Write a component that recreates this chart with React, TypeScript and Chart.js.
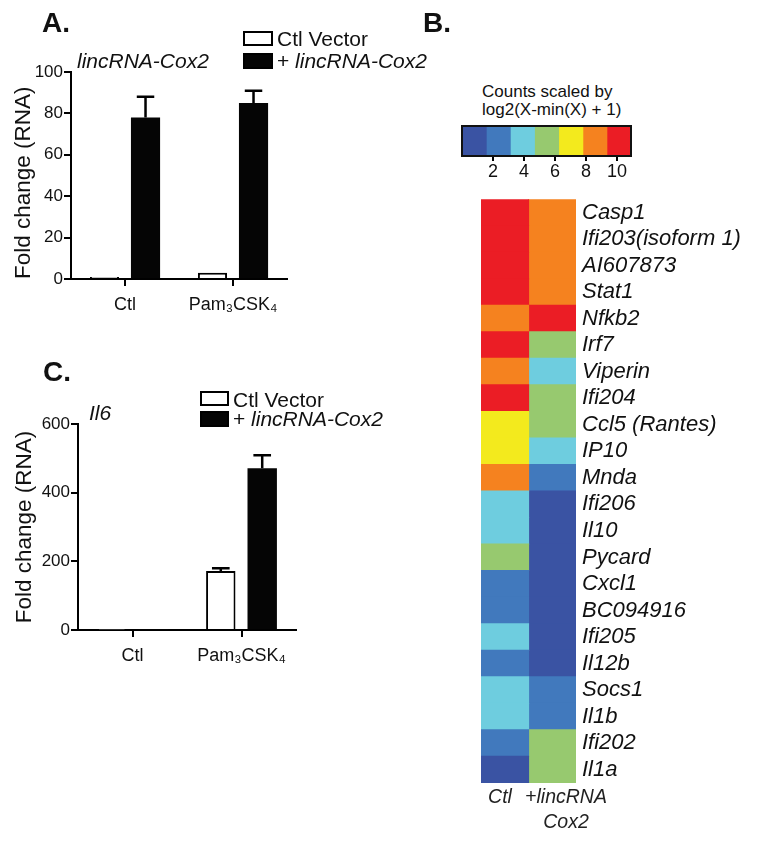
import React, { useEffect, useRef } from 'react';
import { Chart, registerables } from 'chart.js';

Chart.register(...registerables);

const FONT = "'Liberation Sans', Arial, Helvetica, sans-serif";

// ---------- Panels A and C (bar charts) ----------
const groups = ['Ctl', 'Pam\u2083CSK\u2084'];
const seriesLabels = ['Ctl Vector', '+ lincRNA-Cox2'];

const coxVector = [1.0, 3.0];
const coxVectorErr = [0, 0];
const coxLinc = [78, 85];
const coxLincErr = [10, 6];
const coxTicks = [0, 20, 40, 60, 80, 100];

const il6Vector = [1, 172];
const il6VectorErr = [0, 8];
const il6Linc = [1, 471];
const il6LincErr = [0, 38];
const il6Ticks = [0, 200, 400, 600];

// ---------- Panel B (heat map) ----------
const genes = [
  'Casp1', 'Ifi203(isoform 1)', 'AI607873', 'Stat1', 'Nfkb2', 'Irf7', 'Viperin', 'Ifi204',
  'Ccl5 (Rantes)', 'IP10', 'Mnda', 'Ifi206', 'Il10', 'Pycard', 'Cxcl1', 'BC094916',
  'Ifi205', 'Il12b', 'Socs1', 'Il1b', 'Ifi202', 'Il1a',
];
const ctlScaled = [
  10.1, 10.1, 10.1, 10.1, 8.6, 10.1, 8.6, 10.1,
  7.0, 7.0, 8.6, 3.9, 3.9, 5.5, 2.3, 2.3,
  3.9, 2.3, 3.9, 3.9, 2.3, 0.8,
];
const lincScaled = [
  8.6, 8.6, 8.6, 8.6, 10.1, 5.5, 3.9, 5.5,
  5.5, 3.9, 2.3, 0.8, 0.8, 0.8, 0.8, 0.8,
  0.8, 0.8, 2.3, 2.3, 5.5, 5.5,
];
const heatColumns: (string | string[])[] = ['Ctl', ['+lincRNA', 'Cox2']];
const scaleColors = ['#3a53a3', '#4179bd', '#6ecddf', '#97c96f', '#f3ea1d', '#f5821f', '#eb1d25'];
const scaleBreaks = [0, 1.56, 3.11, 4.67, 6.23, 7.79, 9.34, 10.9];
const scaleTicks = [2, 4, 6, 8, 10];

function colorFor(v: number): string {
  for (let k = 0; k < scaleColors.length; k++) {
    if (v >= scaleBreaks[k] && v < scaleBreaks[k + 1]) return scaleColors[k];
  }
  return scaleColors[scaleColors.length - 1];
}

// ---------- plugins ----------
const errorBarPlugin = {
  id: 'errorBars',
  afterDatasetsDraw(chart: any) {
    const ctx = chart.ctx;
    const yScale = chart.scales.y;
    chart.data.datasets.forEach((ds: any, di: number) => {
      const errs = ds.errors;
      if (!errs) return;
      const meta = chart.getDatasetMeta(di);
      meta.data.forEach((bar: any, i: number) => {
        const err = errs[i];
        if (!err) return;
        const v = ds.data[i];
        const yTop = yScale.getPixelForValue(v + err);
        const half = bar.width * 0.3;
        ctx.save();
        ctx.strokeStyle = '#000';
        ctx.lineWidth = 2.5;
        ctx.beginPath();
        ctx.moveTo(bar.x, bar.y);
        ctx.lineTo(bar.x, yTop);
        ctx.moveTo(bar.x - half, yTop);
        ctx.lineTo(bar.x + half, yTop);
        ctx.stroke();
        ctx.restore();
      });
    });
  },
};

const frameBoxPlugin = {
  id: 'frameBox',
  afterDatasetsDraw(chart: any) {
    const { left, top, width, height } = chart.chartArea;
    const ctx = chart.ctx;
    ctx.save();
    ctx.strokeStyle = '#111';
    ctx.lineWidth = 2;
    ctx.strokeRect(left, top, width, height);
    ctx.restore();
  },
};

// ---------- configs ----------
function barConfig(
  vector: number[], vectorErr: number[], linc: number[], linc_err: number[], ticks: number[],
  box: { padTop: number; padRight: number; yWidth: number; xHeight: number; titlePad: number; titleAlign: string },
): any {
  return {
    type: 'bar',
    data: {
      labels: groups,
      datasets: [
        {
          label: seriesLabels[0], data: vector, errors: vectorErr,
          backgroundColor: '#ffffff', borderColor: '#000000', borderWidth: 2,
        },
        {
          label: seriesLabels[1], data: linc, errors: linc_err,
          backgroundColor: '#050505', borderColor: '#050505', borderWidth: 0,
        },
      ],
    },
    options: {
      responsive: false,
      animation: false,
      devicePixelRatio: 1,
      layout: { padding: { top: box.padTop, right: box.padRight, left: 0, bottom: 0 } },
      datasets: { bar: { categoryPercentage: 0.76, barPercentage: 0.71 } },
      plugins: { legend: { display: false }, tooltip: { enabled: false }, title: { display: false } },
      scales: {
        x: {
          grid: { display: true, offset: false, drawOnChartArea: false, drawTicks: true, tickLength: 7, color: '#000', lineWidth: 2 },
          border: { display: true, color: '#000', width: 2 },
          ticks: { font: { family: FONT, size: 18 }, color: '#111', padding: 8, maxRotation: 0 },
          afterFit: (s: any) => { s.height = box.xHeight; },
        },
        y: {
          min: ticks[0],
          max: ticks[ticks.length - 1],
          afterBuildTicks: (s: any) => { s.ticks = ticks.map((v) => ({ value: v })); },
          grid: { display: true, drawOnChartArea: false, drawTicks: true, tickLength: 7, color: '#000', lineWidth: 2 },
          border: { display: true, color: '#000', width: 2 },
          ticks: { font: { family: FONT, size: 17 }, color: '#111', padding: 1 },
          title: {
            display: true, text: 'Fold change (RNA)', color: '#111', align: box.titleAlign,
            font: { family: FONT, size: 22.5 }, padding: { top: box.titlePad, bottom: 0 },
          },
          afterFit: (s: any) => { s.width = box.yWidth; },
        },
      },
    },
    plugins: [errorBarPlugin],
  };
}

function heatConfig(): any {
  const values = [ctlScaled, lincScaled];
  return {
    type: 'bar',
    data: {
      labels: genes,
      datasets: heatColumns.map((col, ci) => ({
        label: Array.isArray(col) ? col.join(' ') : col,
        data: genes.map(() => [ci, ci + 1]),
        backgroundColor: values[ci].map(colorFor),
        borderWidth: 0,
        grouped: false,
        categoryPercentage: 1,
        barPercentage: 1,
        inflateAmount: 0.6,
      })),
    },
    options: {
      indexAxis: 'y',
      responsive: false,
      animation: false,
      devicePixelRatio: 1,
      layout: { padding: { top: 16, left: 41, right: 0, bottom: 0 } },
      plugins: { legend: { display: false }, tooltip: { enabled: false } },
      scales: {
        x: {
          type: 'linear',
          min: 0,
          max: heatColumns.length,
          // labels sit slightly off the column centres, as in the original figure
          afterBuildTicks: (s: any) => {
            s.ticks = heatColumns.map((_, i) => ({ value: i + 0.5 + (i === 0 ? -0.1 : 0.29) }));
          },
          ticks: {
            callback: (v: any) => heatColumns[Math.floor(Number(v))],
            font: { family: FONT, size: 19.5, style: 'italic', lineHeight: 1.28 },
            color: '#222', padding: 2, autoSkip: false, maxRotation: 0,
          },
          grid: { display: false, drawTicks: false },
          border: { display: false },
          afterFit: (s: any) => { s.height = 47; },
        },
        y: {
          position: 'right',
          ticks: { font: { family: FONT, size: 22, style: 'italic' }, color: '#111', padding: 6, autoSkip: false },
          grid: { display: false, drawTicks: false },
          border: { display: false },
          afterFit: (s: any) => { s.width = 188; },
        },
      },
    },
  };
}

function colorbarConfig(): any {
  return {
    type: 'bar',
    data: {
      labels: [''],
      datasets: scaleColors.map((c, k) => ({
        label: String(k),
        data: [[scaleBreaks[k], scaleBreaks[k + 1]]],
        backgroundColor: c,
        borderWidth: 0,
        grouped: false,
        categoryPercentage: 1,
        barPercentage: 1,
        inflateAmount: 0.5,
      })),
    },
    options: {
      indexAxis: 'y',
      responsive: false,
      animation: false,
      devicePixelRatio: 1,
      layout: { padding: { top: 16, left: 22, right: 19, bottom: 0 } },
      plugins: { legend: { display: false }, tooltip: { enabled: false } },
      scales: {
        x: {
          type: 'linear',
          min: scaleBreaks[0],
          max: scaleBreaks[scaleBreaks.length - 1],
          afterBuildTicks: (s: any) => { s.ticks = scaleTicks.map((v) => ({ value: v })); },
          ticks: { font: { family: FONT, size: 18 }, color: '#111', padding: 0 },
          grid: { display: true, drawOnChartArea: false, drawTicks: true, tickLength: 5, color: '#000', lineWidth: 2 },
          border: { display: false },
          afterFit: (s: any) => { s.height = 34; },
        },
        y: { display: false },
      },
    },
    plugins: [frameBoxPlugin],
  };
}

// ---------- components ----------
function ChartCanvas({ config, left, top, width, height }: { config: () => any; left: number; top: number; width: number; height: number }) {
  const ref = useRef<HTMLCanvasElement | null>(null);
  useEffect(() => {
    if (!ref.current) return;
    const chart = new Chart(ref.current, config());
    return () => chart.destroy();
  }, []);
  return (
    <canvas
      ref={ref}
      width={width}
      height={height}
      style={{ position: 'absolute', left, top, width, height }}
    />
  );
}

function Label({ left, cy, size, children, bold, italic, lineHeight }: any) {
  const lh = lineHeight || size * 1.2;
  return (
    <div
      style={{
        position: 'absolute', left, top: cy - lh / 2, fontFamily: FONT, fontSize: size,
        lineHeight: `${lh}px`, fontWeight: bold ? 700 : 400, fontStyle: italic ? 'italic' : 'normal',
        color: '#111', whiteSpace: 'nowrap',
      }}
    >
      {children}
    </div>
  );
}

function Swatch({ left, top, width, height, filled }: any) {
  return (
    <div
      style={{
        position: 'absolute', left, top, width, height, boxSizing: 'border-box',
        background: filled ? '#050505' : '#fff', border: '2px solid #000',
      }}
    />
  );
}

export default function App() {
  return (
    <div style={{ position: 'absolute', left: 0, top: 0, width: 764, height: 842, background: '#fff', overflow: 'hidden' }}>
      {/* Panel A */}
      <ChartCanvas
        config={() => barConfig(coxVector, coxVectorErr, coxLinc, coxLincErr, coxTicks,
          { padTop: 72, padRight: 13, yWidth: 71, xHeight: 51, titlePad: 10, titleAlign: 'start' })}
        left={0} top={0} width={300} height={330}
      />
      <Label left={42} cy={23} size={28} bold>A.</Label>
      <Label left={77} cy={61} size={21} italic>lincRNA-Cox2</Label>
      <Swatch left={243} top={31} width={30} height={15} />
      <Label left={277} cy={38.5} size={21}>{seriesLabels[0]}</Label>
      <Swatch left={243} top={53} width={30} height={16} filled />
      <Label left={277} cy={61} size={21}>+ <i>lincRNA-Cox2</i></Label>

      {/* Panel C */}
      <ChartCanvas
        config={() => barConfig(il6Vector, il6VectorErr, il6Linc, il6LincErr, il6Ticks,
          { padTop: 84, padRight: 14, yWidth: 78, xHeight: 40, titlePad: 11.5, titleAlign: 'center' })}
        left={0} top={340} width={310} height={330}
      />
      <Label left={43} cy={372} size={28} bold>C.</Label>
      <Label left={89} cy={413} size={21} italic>Il6</Label>
      <Swatch left={200} top={391} width={29} height={15} />
      <Label left={233} cy={400} size={21}>{seriesLabels[0]}</Label>
      <Swatch left={200} top={411} width={29} height={16} filled />
      <Label left={233} cy={419} size={21}>+ <i>lincRNA-Cox2</i></Label>

      {/* Panel B */}
      <Label left={423} cy={23} size={28} bold>B.</Label>
      <div
        style={{
          position: 'absolute', left: 482, top: 83, fontFamily: FONT, fontSize: 17,
          lineHeight: '18px', color: '#111', whiteSpace: 'nowrap',
        }}
      >
        Counts scaled by<br />log2(X-min(X) + 1)
      </div>
      <ChartCanvas config={colorbarConfig} left={440} top={110} width={210} height={80} />
      <ChartCanvas config={heatConfig} left={440} top={180} width={324} height={650} />
    </div>
  );
}
